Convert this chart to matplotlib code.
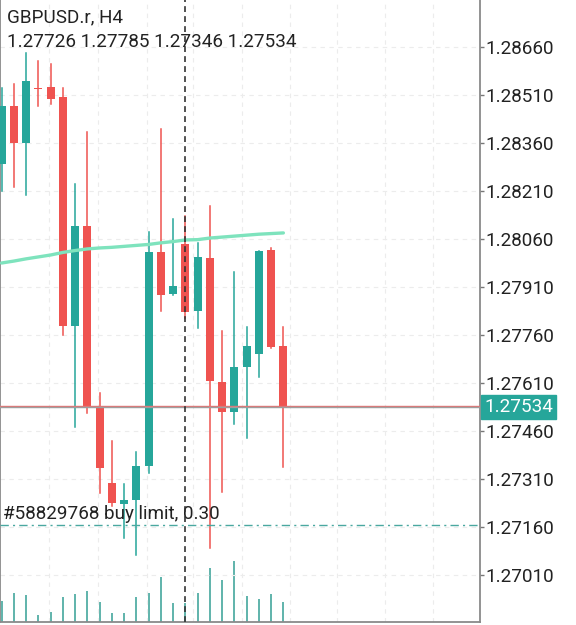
import matplotlib
matplotlib.use("Agg")
import matplotlib.pyplot as plt
from matplotlib.ticker import FixedLocator, FormatStrFormatter

plt.rcParams['font.family'] = ['Roboto', 'DejaVu Sans']

# GBPUSD.r H4 candles (oldest -> newest)
opens = [1.28294, 1.28476, 1.28360, 1.28533, 1.28534, 1.28503, 1.27787, 1.28101,
         1.27538, 1.27297, 1.27232, 1.27244, 1.27351, 1.28018, 1.27887, 1.28043,
         1.27835, 1.28002, 1.27614, 1.27518, 1.27659, 1.27701, 1.28026, 1.27726]
highs = [1.28532, 1.28544, 1.28642, 1.28617, 1.28607, 1.28531, 1.28232, 1.28395,
         1.27580, 1.27430, 1.27294, 1.27393, 1.28081, 1.28403, 1.28124, 1.28132,
         1.28047, 1.28164, 1.27772, 1.27958, 1.27786, 1.28024, 1.28031, 1.27785]
lows = [1.28210, 1.28223, 1.28198, 1.28477, 1.28481, 1.27760, 1.27472, 1.27515,
        1.27267, 1.27226, 1.27125, 1.27071, 1.27328, 1.27835, 1.27885, 1.27813,
        1.27781, 1.27095, 1.27270, 1.27481, 1.27437, 1.27630, 1.27719, 1.27346]
closes = [1.28476, 1.28360, 1.28554, 1.28530, 1.28498, 1.27789, 1.28102, 1.27536,
          1.27345, 1.27234, 1.27244, 1.27351, 1.28020, 1.27885, 1.27913, 1.27833,
          1.28003, 1.27616, 1.27518, 1.27659, 1.27726, 1.28023, 1.27723, 1.27534]
ma = [1.27985, 1.27991, 1.27998, 1.28004, 1.28010, 1.28018, 1.28024, 1.28029,
      1.28032, 1.28034, 1.28037, 1.28040, 1.28043, 1.28048, 1.28052, 1.28057,
      1.28058, 1.28063, 1.28066, 1.28069, 1.28072, 1.28075, 1.28077, 1.28079]
volumes = [5250, 7250, 6750, 1750, 2500, 6250, 7000, 7750, 5000, 2250, 2250, 6250,
           7250, 11250, 4750, 4750, 7250, 13500, 10500, 15250, 6500, 5750, 7000, 5000]

price_ticks = [1.27010, 1.27160, 1.27310, 1.27460, 1.27610, 1.27760,
               1.27910, 1.28060, 1.28210, 1.28360, 1.28510, 1.28660]
bid = 1.27534
ask = 1.27539
buy_limit = 1.27165
order_label = "#58829768 buy limit, 0.30"
symbol = "GBPUSD.r, H4"
crosshair_bar = 15
time_grid = [3.87, 7.87, 11.87, 15.62, 19.62, 23.54, 27.37, 31.3, 35.22]

up_col = '#26a69a'
down_col = '#ef5350'
fs = 13.6

fig = plt.figure(figsize=(5.76, 6.25), dpi=100)
ax = fig.add_axes([0, 3 / 625, 480 / 576, 622 / 625])
vax = ax.twinx()
vax.set_zorder(0)
ax.set_zorder(1)
ax.patch.set_visible(False)

# volumes at the bottom
for i, v in enumerate(volumes):
    vax.plot([i, i], [0, v], color='#5fb3ab', lw=1.4, solid_capstyle='butt')
vax.set_ylim(0, 155500)
vax.set_yticks([])
for s in vax.spines.values():
    s.set_visible(False)

# grid
for t in price_ticks:
    ax.axhline(t, color='#ececec', lw=0.8, ls=(0, (4, 4)), zorder=0)
for g in time_grid:
    ax.axvline(g, color='#ececec', lw=0.8, ls=(0, (4, 4)), zorder=0)

# candles
w = 0.65
for i in range(len(opens)):
    o, h, l, c = opens[i], highs[i], lows[i], closes[i]
    col = up_col if c >= o else down_col
    ax.plot([i, i], [l, h], color=col, lw=1.1, zorder=2)
    lo, hi = min(o, c), max(o, c)
    if hi - lo < 0.00003:
        hi = lo + 0.00003
    ax.add_patch(plt.Rectangle((i - w / 2, lo), w, hi - lo, color=col, lw=0, zorder=3))

# moving average
ax.plot(range(len(ma)), ma, color='#7ee3bd', lw=2.4, zorder=4, solid_capstyle='round')

# price lines
ax.axhline(ask, color='#e57373', lw=1.0, zorder=5)
ax.axhline(bid, color='#9e9e9e', lw=1.0, zorder=5)
ax.axhline(buy_limit, color='#4aa8a0', lw=1.0, ls=(0, (6, 3, 1.5, 3)), zorder=5)
ax.text(0.1, buy_limit + 0.00008, order_label, fontsize=fs, color='#222222',
        va='bottom', ha='left', zorder=6)

# crosshair
ax.axvline(crosshair_bar, color='#333333', lw=1.2, ls=(0, (3.5, 2.5)), zorder=6)

ax.set_xlim(-0.13, 39.05)
ax.set_ylim(1.268631, 1.288069)
ax.set_xticks([])
ax.yaxis.tick_right()
ax.yaxis.set_major_locator(FixedLocator(price_ticks))
ax.yaxis.set_major_formatter(FormatStrFormatter('%.5f'))
ax.tick_params(axis='y', length=3, width=1, color='#777777', labelsize=fs,
               labelcolor='#222222', pad=1)
ax.spines['top'].set_visible(False)
for name in ['left', 'right', 'bottom']:
    ax.spines[name].set_color('#8a8a8a')
    ax.spines[name].set_linewidth(1.3)

# current price tag
ax.annotate(f"{bid:.5f}", xy=(1.0, bid), xycoords=('axes fraction', 'data'),
            xytext=(3, 0), textcoords='offset points', va='center', ha='left',
            fontsize=fs, color='white', zorder=10, annotation_clip=False,
            bbox=dict(boxstyle='square,pad=0.15', fc=up_col, ec=up_col))

# header
fig.text(7 / 576, 1 - 17 / 625, symbol, fontsize=fs, color='#222222', va='center')
fig.text(7 / 576, 1 - 42 / 625, f"{opens[-1]:.5f} {highs[-1]:.5f} {lows[-1]:.5f} {closes[-1]:.5f}",
         fontsize=fs, color='#222222', va='center')

fig.savefig("out.png", dpi=100, facecolor='white')
